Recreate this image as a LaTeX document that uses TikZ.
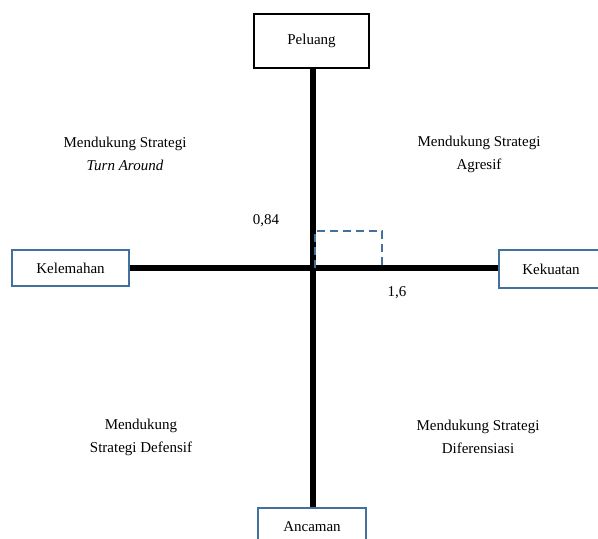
\documentclass[tikz,border=0pt]{standalone}
\usepackage{fontspec}
\setmainfont{Liberation Serif}
\usetikzlibrary{positioning}

\definecolor{boxblue}{RGB}{65,113,156}

\begin{document}
\begin{tikzpicture}[
                x = 1pt, y = -1pt, % pixel-like units, y down
                semithick % line style
            ]

            \tikzstyle{every node}=[font=\fontsize{15}{23}\selectfont, align=center]
            \tikzstyle{box}=[draw = boxblue, line width = 2pt, fill = white,
            inner sep = 0pt]
            \tikzstyle{axis}=[line width = 5.5pt, black]

            \useasboundingbox (0,0) rectangle (598,539);

            % the four boxes
            \node (peluang) [box, draw = black, line width = 2.5pt,
            minimum width = 115pt, minimum height = 54pt] at (311.5,41) {Peluang};
            \node (kelemahan) [box, minimum width = 117pt, minimum height = 36pt]
            at (70.5,268) {Kelemahan};
            \node (kekuatan) [box, minimum width = 104pt, minimum height = 38pt]
            at (551,269) {Kekuatan};
            \node (ancaman) [box, minimum width = 108pt, minimum height = 38pt]
            at (312,527) {Ancaman};

            % axes
            \coordinate (o) at (315,268);
            \draw[axis] (peluang.south -| 313,0) -- (ancaman.north -| 313,0);
            \draw[axis] (kelemahan.east |- o) -- (kekuatan.west |- o);

            % position
            \coordinate (p) at (382,231);
            \draw[boxblue, line width = 2pt, dash pattern = on 8pt off 5pt]
            (o) -- (o |- p) -- (p) -- (p |- o);
            \node (y) at (266,221) {0,84};
            \node (x) at (397,293) {1,6};

            % quadrants
            \node (q1) at (125,154) {Mendukung Strategi\\\textit{Turn Around}};
            \node (q2) at (479,154) {Mendukung Strategi\\Agresif};
            \node (q3) at (141,437) {Mendukung\\Strategi Defensif};
            \node (q4) at (478,437) {Mendukung Strategi\\Diferensiasi};

        \end{tikzpicture}
\end{document}
